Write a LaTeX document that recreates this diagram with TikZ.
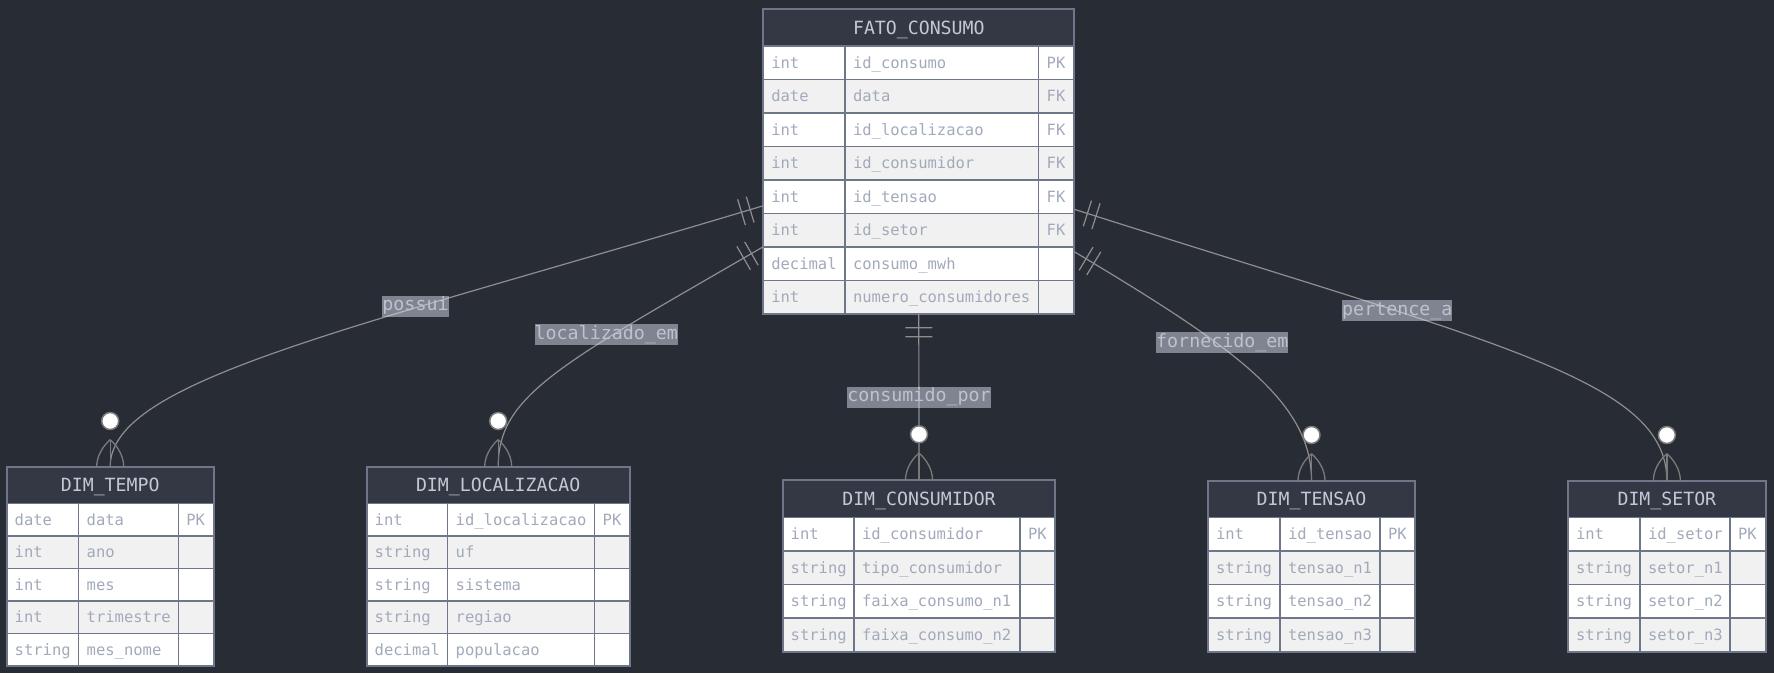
\documentclass[tikz,border=0pt]{standalone}
\usepackage{fontspec}
\newfontfamily\ermono{DejaVu Sans Mono}
\usetikzlibrary{calc,decorations.markings}

\definecolor{bgcol}{HTML}{282C34}
\definecolor{headfill}{HTML}{333844}
\definecolor{framecol}{HTML}{6E778A}
\definecolor{rowalt}{HTML}{F1F1F1}
\definecolor{celltext}{HTML}{A2AABA}
\definecolor{headtext}{HTML}{C2C9D6}
\definecolor{edgecol}{HTML}{8E8E8E}
\definecolor{markcol}{HTML}{7A7A7A}
\definecolor{lblfill}{HTML}{D8DCEE}
\definecolor{lbltext}{HTML}{BCC2CE}

\tikzset{
  ertitle/.style={draw=framecol, line width=1.5pt, fill=headfill, text=headtext,
    inner sep=0pt, outer sep=0pt, anchor=north west,
    font=\ermono\fontsize{18.2pt}{22pt}\selectfont, text height=13.3pt, text depth=0pt},
  ercell/.style={draw=framecol, line width=1.5pt, text=celltext, inner xsep=8pt,
    inner ysep=0pt, outer sep=0pt, align=left, anchor=north west,
    font=\ermono\fontsize{15.5pt}{18pt}\selectfont, text height=11.3pt, text depth=0pt},
  erframe/.style={draw=framecol, line width=2pt, inner sep=0pt, outer sep=0pt, anchor=north west},
  eredge/.style={draw=edgecol, line width=1.2pt},
  erlabel/.style={fill=lblfill, fill opacity=0.5, text opacity=1, text=lbltext, inner sep=0pt,
    font=\ermono\fontsize{18.3pt}{22pt}\selectfont, text height=15pt, text depth=6pt},
  bartwo/.style={postaction={decorate, decoration={markings,
      mark=at position 13.7pt with {\draw[edgecol, line width=1.2pt] (0pt,-13.5pt) -- (0pt,13.5pt);},
      mark=at position 22.7pt with {\draw[edgecol, line width=1.2pt] (0pt,-13.5pt) -- (0pt,13.5pt);}}}},
  zeromany/.pic={
    \draw[markcol, line width=1.3pt] (0,-27) .. controls (-8,-20) and (-13.5,-10) .. (-13.5,0);
    \draw[markcol, line width=1.3pt] (0,-27) .. controls (8,-20) and (13.5,-10) .. (13.5,0);
    \draw[markcol, line width=1.3pt] (0,-27) -- (0,0);
    \filldraw[fill=white, draw=markcol, line width=1.5pt] (0,-45.7) circle[radius=8.5pt];
  }
}

% column edges x0,x1,x2,x3 and top, header bottom, row height
\def\ersplit#1,#2,#3,#4\relax{\def\erxa{#1}\def\erxb{#2}\def\erxc{#3}\def\erxd{#4}}
\def\ersplitv#1,#2,#3\relax{\def\erya{#1}\def\eryb{#2}\def\errh{#3}}

% \ertable{name}{x0,x1,x2,x3}{top,header bottom,row height}{title}{type/name/key,...}
\newcommand\ertable[5]{%
  \ersplit#2\relax
  \ersplitv#3\relax
  \pgfmathsetmacro\erwa{\erxb-\erxa}%
  \pgfmathsetmacro\erwb{\erxc-\erxb}%
  \pgfmathsetmacro\erwc{\erxd-\erxc}%
  \pgfmathsetmacro\ertwa{\erwa-16}%
  \pgfmathsetmacro\ertwb{\erwb-16}%
  \pgfmathsetmacro\ertwc{\erwc-16}%
  \pgfmathsetmacro\erwt{\erxd-\erxa}%
  \pgfmathsetmacro\erhh{\eryb-\erya}%
  \node[ertitle, minimum width=\erwt pt, minimum height=\erhh pt] (#1-title) at (\erxa,\erya) {#4};
  \foreach \ty/\nm/\ky [count=\i] in {#5}{%
    \pgfmathsetmacro\rowtop{\eryb+(\i-1)*\errh}%
    \pgfmathsetmacro\rowbot{\rowtop+\errh}%
    \xdef\erbot{\rowbot}%
    \ifodd\i\def\rowfill{white}\else\def\rowfill{rowalt}\fi
    \node[ercell, fill=\rowfill, text width=\ertwa pt, minimum height=\errh pt] (#1-\i-a) at (\erxa,\rowtop) {\mbox{\ty}};
    \node[ercell, fill=\rowfill, text width=\ertwb pt, minimum height=\errh pt] (#1-\i-b) at (\erxb,\rowtop) {\mbox{\nm}};
    \node[ercell, fill=\rowfill, text width=\ertwc pt, minimum height=\errh pt] (#1-\i-c) at (\erxc,\rowtop) {\mbox{\ky}};
  }%
  \pgfmathsetmacro\erth{\erbot-\erya}%
  \node[erframe, minimum width=\erwt pt, minimum height=\erth pt] (#1) at (\erxa,\erya) {};
}

\begin{document}
\begin{tikzpicture}[x=1pt, y=-1pt]
  \useasboundingbox (0,0) rectangle (1774,673);
  \fill[bgcol] (0,0) rectangle (1774,673);

  % tables
  \ertable{fato}{763.3,845,1038.7,1074.3}{9.3,46,33.5}{FATO\_CONSUMO}%
    {int/id\_consumo/PK, date/data/FK, int/id\_localizacao/FK, int/id\_consumidor/FK,
     int/id\_tensao/FK, int/id\_setor/FK, decimal/consumo\_mwh/{}, int/numero\_consumidores/{}}
  \ertable{tempo}{6.7,78.7,178.3,213.7}{466.7,503.7,32.4}{DIM\_TEMPO}%
    {date/data/PK, int/ano/{}, int/mes/{}, int/trimestre/{}, string/mes\_nome/{}}
  \ertable{local}{366.7,447.7,594.7,629.7}{466.7,503.7,32.4}{DIM\_LOCALIZACAO}%
    {int/id\_localizacao/PK, string/uf/{}, string/sistema/{}, string/regiao/{}, decimal/populacao/{}}
  \ertable{cons}{782.7,854,1020,1055.3}{480,517.3,33.6}{DIM\_CONSUMIDOR}%
    {int/id\_consumidor/PK, string/tipo\_consumidor/{}, string/faixa\_consumo\_n1/{}, string/faixa\_consumo\_n2/{}}
  \ertable{tensao}{1208,1280,1380,1415}{480.7,517.3,33.6}{DIM\_TENSAO}%
    {int/id\_tensao/PK, string/tensao\_n1/{}, string/tensao\_n2/{}, string/tensao\_n3/{}}
  \ertable{setor}{1568,1640,1730,1765.7}{480.7,517.3,33.6}{DIM\_SETOR}%
    {int/id\_setor/PK, string/setor\_n1/{}, string/setor\_n2/{}, string/setor\_n3/{}}

  % relationships
  \draw[eredge, bartwo] ($(fato.north west)+(0,196.4)$) .. controls +(-413.3,124.3) and +(0,-86.7) .. (tempo.north);
  \draw[eredge, bartwo] ($(fato.north west)+(0,237.4)$) .. controls +(-203.3,117.8) and +(0,-71.7) .. (local.north);
  \draw[eredge, bartwo] (fato.south) -- (cons.north);
  \draw[eredge, bartwo] ($(fato.north east)+(0,242.4)$) .. controls +(155.7,93.3) and +(0,-80.7) .. (tensao.north);
  \draw[eredge, bartwo] ($(fato.north east)+(0,200)$) .. controls +(425.7,135.7) and +(0,-100.7) .. (setor.north);

  % relationship labels
  \node[erlabel] (lbl-possui) at (415.5,306.2) {possui};
  \node[erlabel] (lbl-localizado) at (606.3,334.8) {localizado\_em};
  \node[erlabel] (lbl-consumido) at (919,397.2) {consumido\_por};
  \node[erlabel] (lbl-fornecido) at (1222.3,342.8) {fornecido\_em};
  \node[erlabel] (lbl-pertence) at (1397.3,310.7) {pertence\_a};

  % zero-or-many ends
  \pic at (tempo.north) {zeromany};
  \pic at (local.north) {zeromany};
  \pic at (cons.north) {zeromany};
  \pic at (tensao.north) {zeromany};
  \pic at (setor.north) {zeromany};
\end{tikzpicture}
\end{document}
